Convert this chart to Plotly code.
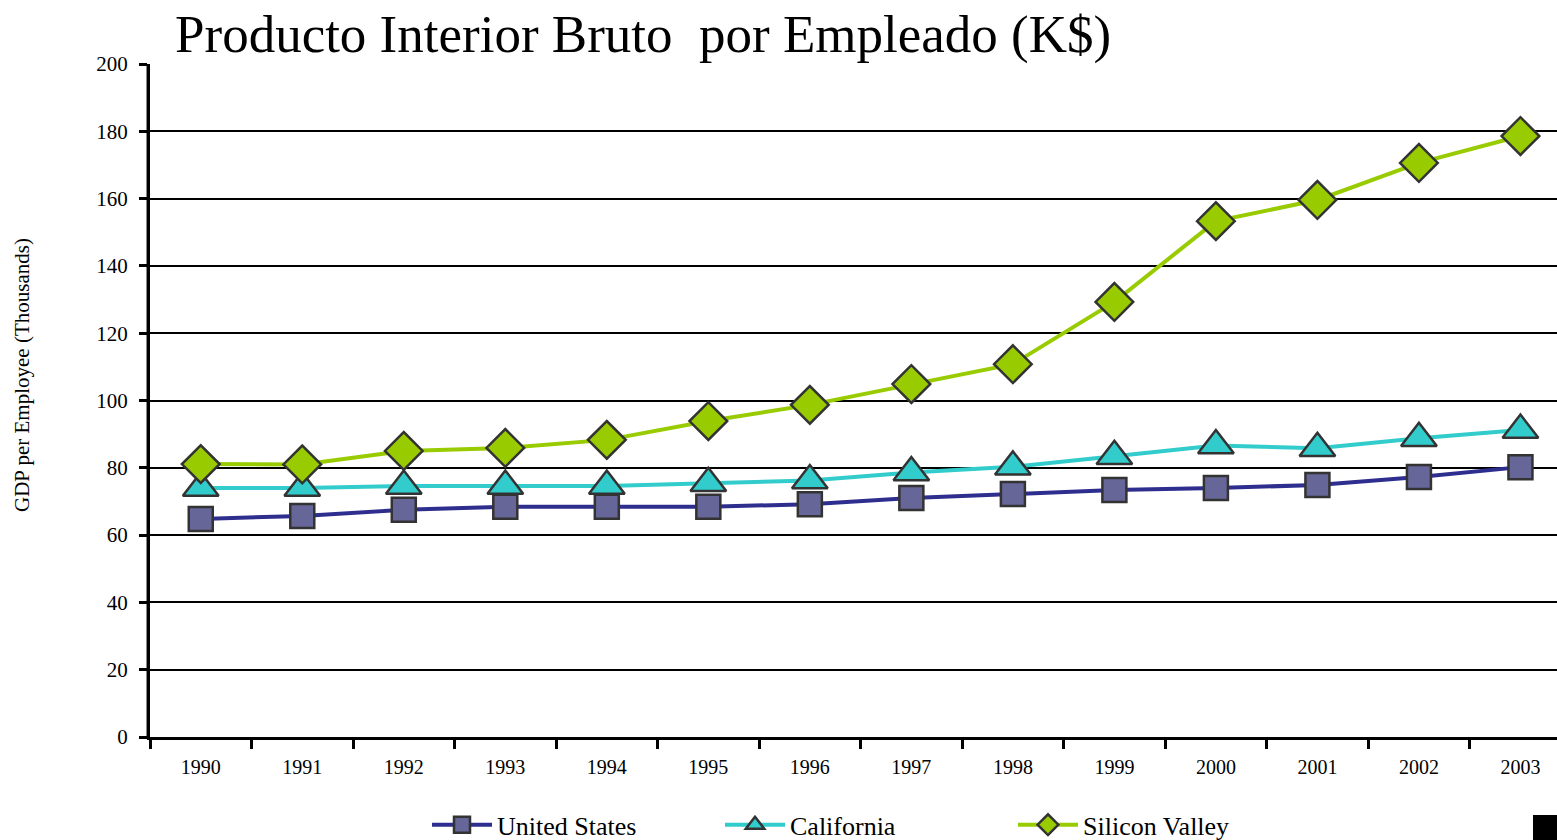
import plotly.graph_objects as go

years = ["1990", "1991", "1992", "1993", "1994", "1995", "1996",
         "1997", "1998", "1999", "2000", "2001", "2002", "2003"]
united_states = [64.8, 65.7, 67.5, 68.4, 68.4, 68.4, 69.2, 71.0, 72.2, 73.4, 74.0, 74.9, 77.3, 80.2]
california = [74.0, 74.0, 74.6, 74.6, 74.6, 75.4, 76.2, 78.6, 80.3, 83.4, 86.6, 85.8, 88.8, 91.2]
silicon_valley = [81.1, 81.0, 85.0, 85.9, 88.3, 93.9, 98.7, 104.9, 110.8, 129.3, 153.3, 159.6, 170.6, 178.6]

series = [
    ("United States", united_states, "#2E2E8E", "#666699", "square", 24),
    ("California", california, "#33CCCC", "#33CCCC", "triangle-up", 31),
    ("Silicon Valley", silicon_valley, "#99CC00", "#99CC00", "diamond", 29),
]

W, H = 1557, 840
PL, PR, PT, PB = 150, 1557, 64, 737  # plot-area edges in the window
PW, PH = PR - PL, PB - PT

fig = go.Figure()
for name, vals, lc, fc, sym, sz in series:
    fig.add_trace(go.Scatter(
        x=years, y=vals, name=name, mode="lines+markers",
        line=dict(color=lc, width=4),
        marker=dict(symbol=sym, size=sz, color=fc, line=dict(color="#333333", width=2.5)),
    ))

serif = "Liberation Serif, Times New Roman, serif"
fig.update_layout(
    width=W, height=H,
    paper_bgcolor="white", plot_bgcolor="white",
    margin=dict(l=PL, r=W - PR, t=PT, b=H - PB, autoexpand=False),
    font=dict(family=serif, color="black"),
    title=dict(text="Producto Interior Bruto  por Empleado (K$)",
               x=175 / W, xanchor="left", y=1 - 33 / H, yanchor="middle",
               font=dict(size=53, family=serif, color="black")),
    showlegend=True,
    legend=dict(orientation="h", x=(427 - PL) / PW, xanchor="left",
                y=-0.1 + 3 / PH, yanchor="top",
                font=dict(size=26, family=serif, color="black"),
                itemwidth=60, entrywidth=218, traceorder="normal"),
    xaxis=dict(type="category", range=[-0.5, 13.36], tickson="boundaries",
               ticks="outside", ticklen=9, tickwidth=2.5, tickcolor="black",
               showline=True, linecolor="black", linewidth=3, ticklabelstandoff=10,
               showgrid=False, tickfont=dict(size=20, family=serif)),
    yaxis=dict(range=[0, 200], dtick=20, ticks="outside", ticklen=8, tickwidth=2.5,
               tickcolor="black", showline=True, linecolor="black", linewidth=3,
               showgrid=True, gridcolor="black", gridwidth=2, zeroline=False,
               ticklabelstandoff=7, automargin=False,
               tickfont=dict(size=21, family=serif)),
)

fig.add_annotation(text="GDP per Employee (Thousands)", textangle=-90,
                   xref="paper", yref="paper", x=(22 - PL) / PW, y=(PB - 375) / PH,
                   xanchor="center", yanchor="middle", showarrow=False,
                   font=dict(size=21, family=serif, color="black"))

# gray shadow left of the y axis
fig.add_shape(type="line", xref="paper", yref="paper", x0=-3 / PW, x1=-3 / PW, y0=0, y1=1,
              line=dict(color="#888888", width=2), layer="below")

# small black block at bottom right
fig.add_shape(type="rect", xref="paper", yref="paper", x0=(1533 - PL) / PW, x1=1.0,
              y0=-(815 - PB) / PH, y1=-(845 - PB) / PH,
              fillcolor="black", line=dict(width=0), layer="above")

fig.write_html("out.html", config={"displayModeBar": False},
               post_script="document.body.style.margin='0';document.body.style.overflow='hidden';")
